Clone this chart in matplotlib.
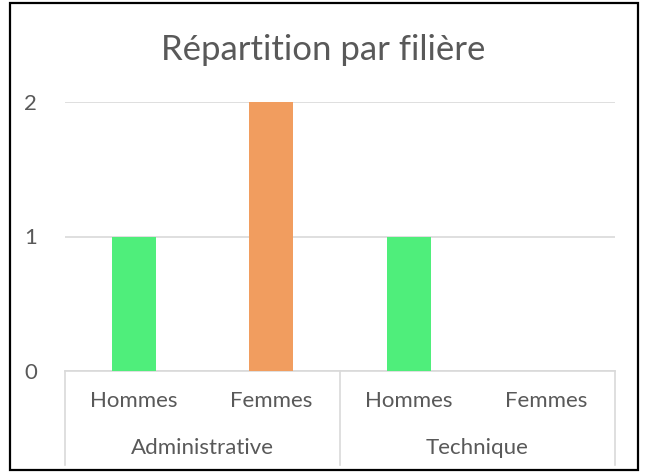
import matplotlib.pyplot as plt
from matplotlib.patches import Rectangle

plt.rcParams['font.family'] = ['Lato', 'DejaVu Sans']

filieres = ['Administrative', 'Technique']
sexes = ['Hommes', 'Femmes']
effectifs = [1, 2, 1, 0]
couleurs = ['#4FEE7B', '#F19D5F', '#4FEE7B', '#F19D5F']
yticks = [0, 1, 2]

gris = '#595959'

fig = plt.figure(figsize=(6.46, 4.76), dpi=100)
ax = fig.add_axes([65/646, 1 - 371/476, 550/646, 269/476])

x = list(range(len(effectifs)))
ax.bar(x, effectifs, width=0.32, color=couleurs, zorder=3)

ax.set_xlim(-0.5, len(effectifs) - 0.5)
ax.set_ylim(0, 2)
ax.set_yticks(yticks)
ax.set_yticklabels([str(t) for t in yticks], color=gris, fontsize=16)
ax.tick_params(axis='y', length=0, pad=20)
ax.set_xticks([])
ax.grid(axis='y', color='#D9D9D9', linewidth=1.2, zorder=0)
for s in ['top', 'right', 'left']:
    ax.spines[s].set_visible(False)
ax.spines['bottom'].set_color('#D9D9D9')
ax.spines['bottom'].set_linewidth(1.2)

# axe des catégories sur deux niveaux
trans = ax.get_xaxis_transform()
for i, xi in enumerate(x):
    ax.text(xi, -0.112, sexes[i % 2], transform=trans, ha='center', va='center',
            fontsize=16, color=gris)
for j, f in enumerate(filieres):
    ax.text(j * 2 + 0.5, -0.286, f, transform=trans, ha='center', va='center',
            fontsize=16, color=gris)
for xs in [-0.5, 1.5, 3.5]:
    ax.plot([xs, xs], [0, -0.35], transform=trans, color='#D9D9D9',
            linewidth=1.2, clip_on=False)

fig.text(0.5, 1 - 50/476, 'Répartition par filière', ha='center', va='center',
         fontsize=25, color=gris)

fig.patches.append(Rectangle((10/646, 1 - 470/476), 628/646, 467/476,
                             transform=fig.transFigure, fill=False,
                             edgecolor='black', linewidth=1.6))

fig.savefig('out.png', dpi=100)
